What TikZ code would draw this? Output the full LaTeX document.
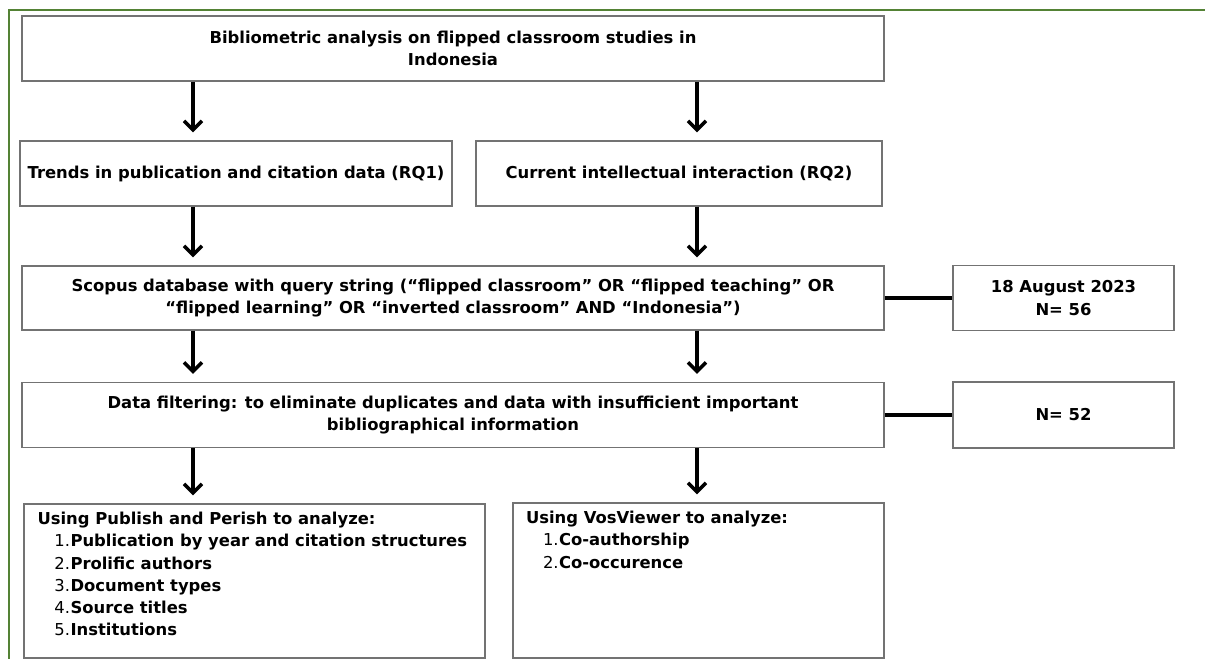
\documentclass[tikz,border=0pt]{standalone}
\usepackage{fontspec}
\setmainfont{DejaVu Sans}
\usepackage{tikz}
\usetikzlibrary{arrows.meta}
\usepackage{xcolor}
\definecolor{framegreen}{RGB}{84,130,53}
\newcommand{\listno}[1]{\makebox[33pt][l]{\hspace{17pt}\mdseries#1.}}

\begin{document}
\begin{tikzpicture}[x=1pt, y=-1pt,
        font=\fontsize{16.4}{22.3}\selectfont\bfseries,
        box/.style={rectangle, draw=black!55, line width=1.2pt, fill=white,
          align=center, inner sep=0pt},
        flow/.style={-{Straight Barb[length=9pt, width=18pt]}, line width=3.5pt,
          shorten >=8pt},
        link/.style={line width=3.2pt},
      ]
      \useasboundingbox (0,0) rectangle (1205,659);
      % outer frame
      \draw[framegreen, line width=1.6pt] (1205,10) -- (9,10) -- (9,659);

      % main column
      \node[box, minimum width=862pt, minimum height=65pt] (top) at (453,48.5)
        {Bibliometric analysis on flipped classroom studies in\\Indonesia};
      \node[box, minimum width=432pt, minimum height=65pt] (trends) at (236,173.5)
        {Trends in publication and citation data (RQ1)};
      \node[box, minimum width=406pt, minimum height=65pt] (current) at (679,173.5)
        {Current intellectual interaction (RQ2)};
      \node[box, minimum width=862pt, minimum height=64pt] (scopus) at (453,298)
        {Scopus database with query string (“flipped classroom” OR “flipped teaching” OR\\
         “flipped learning” OR “inverted classroom” AND “Indonesia”)};
      \node[box, minimum width=862pt, minimum height=65pt] (filter) at (453,415)
        {Data filtering: to eliminate duplicates and data with insufficient important\\
         bibliographical information};

      % side notes
      \node[box, minimum width=221pt, minimum height=65pt] (date) at (1063.5,298)
        {18 August 2023\\N= 56};
      \node[box, minimum width=221pt, minimum height=66pt] (final) at (1063.5,415)
        {N= 52};

      % analysis tools
      \node[box, minimum width=461pt, minimum height=154pt] (perish) at (254.5,581)
        {\parbox[c][154pt][t]{434pt}{\raggedright\vspace*{8pt}
          Using Publish and Perish to analyze:\\
          \listno{1}Publication by year and citation structures\\
          \listno{2}Prolific authors\\
          \listno{3}Document types\\
          \listno{4}Source titles\\
          \listno{5}Institutions}};
      \node[box, minimum width=371pt, minimum height=155pt] (vos) at (698.5,580.5)
        {\parbox[c][155pt][t]{345pt}{\raggedright\vspace*{8pt}
          Using VosViewer to analyze:\\
          \listno{1}Co-authorship\\
          \listno{2}Co-occurence}};

      % arrow columns
      \coordinate (colL) at (193,0);
      \coordinate (colR) at (697,0);
      \foreach \from/\to/\col in {top/trends/colL, top/current/colR,
          trends/scopus/colL, current/scopus/colR, scopus/filter/colL,
          scopus/filter/colR, filter/perish/colL, filter/vos/colR}
        \draw[flow] (\from.south -| \col) -- (\to.north -| \col);

      \draw[link] (scopus) -- (date);
      \draw[link] (filter) -- (final);
    \end{tikzpicture}
\end{document}
